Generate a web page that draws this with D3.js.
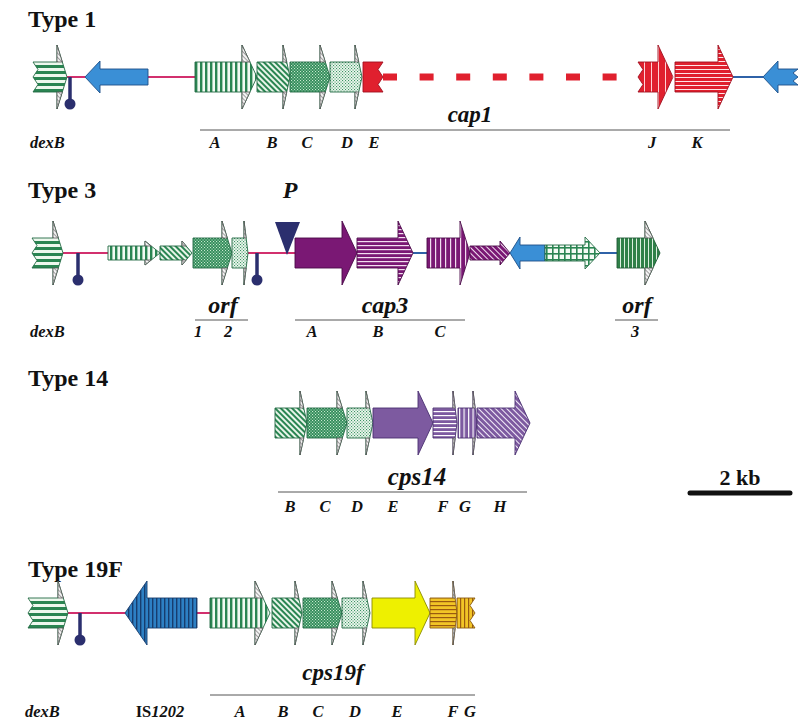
<!DOCTYPE html>
<html><head><meta charset="utf-8">
<script src="https://cdn.jsdelivr.net/npm/d3@7"></script>
<style>
body{margin:0;background:#fff}
text{font-family:"Liberation Serif","Times New Roman",serif;font-weight:bold;fill:#111}
</style>
</head><body>
<svg id="c" width="810" height="720"></svg>
<script>
// ---------------- DATA (positions in kb) ----------------
const titles = ["Type 1", "Type 3", "Type 14", "Type 19F"];

// gene: name, start kb, end kb, strand, family (homology pattern), arrow class, head class, broken end
const type1Genes = [
  {name:"dexB", start:0.26, end:0.94, strand:1, fam:"gH", size:"big", head:"M", broken:"tail"},
  {name:"orfL", start:1.30, end:2.56, strand:-1, fam:"blue", size:"mid", head:"L"},
  {name:"A", start:3.50, end:4.74, strand:1, fam:"gV", size:"big", head:"L"},
  {name:"B", start:4.74, end:5.40, strand:1, fam:"gD", size:"big", head:"S"},
  {name:"C", start:5.40, end:6.20, strand:1, fam:"gX", size:"big", head:"M"},
  {name:"D", start:6.20, end:6.84, strand:1, fam:"gL", size:"big", head:"S"},
  {name:"E", start:6.86, end:7.26, strand:1, fam:"red", size:"big", head:"N", broken:"tip"},
  {name:"J", start:12.36, end:13.06, strand:1, fam:"rV", size:"big", head:"L", broken:"tail"},
  {name:"K", start:13.10, end:14.26, strand:1, fam:"rH", size:"big", head:"L"},
  {name:"orfR", start:14.86, end:15.56, strand:-1, fam:"blue", size:"mid", head:"L", broken:"tail"}
];
const type1Links = [{from:0.94, to:1.30, c:"pink"}, {from:2.56, to:3.50, c:"pink"}, {from:14.26, to:14.86, c:"blue"}];
const type1Gap = [{from:7.26, to:11.96}];
const type1Terms = [1.00];
const type1Groups = [{text:"cap1", at:9.00, from:3.60, to:14.20}];
const type1Letters = [{t:"A",at:3.90},{t:"B",at:5.04},{t:"C",at:5.74},{t:"D",at:6.54},{t:"E",at:7.08},{t:"J",at:12.64},{t:"K",at:13.54}];
const type1Side = [{t:"dexB", at:0.20, anchor:"start"}];

const type3Genes = [
  {name:"dexB", start:0.24, end:0.86, strand:1, fam:"gH", size:"big", head:"M", broken:"tail"},
  {name:"o1a", start:1.76, end:2.80, strand:1, fam:"gV", size:"small", head:"L"},
  {name:"o1b", start:2.80, end:3.44, strand:1, fam:"gD", size:"small", head:"M"},
  {name:"orf1", start:3.46, end:4.24, strand:1, fam:"gX", size:"big", head:"M"},
  {name:"orf2", start:4.24, end:4.56, strand:1, fam:"gL", size:"big", head:"T"},
  {name:"A", start:5.50, end:6.74, strand:1, fam:"purple", size:"big", head:"L"},
  {name:"B", start:6.74, end:7.86, strand:1, fam:"pH", size:"big", head:"L"},
  {name:"C", start:8.14, end:9.00, strand:1, fam:"pV", size:"big", head:"M"},
  {name:"p4", start:9.00, end:9.80, strand:1, fam:"pD", size:"small", head:"M"},
  {name:"bl", start:9.80, end:10.50, strand:-1, fam:"blue", size:"mid", head:"M"},
  {name:"gr", start:10.50, end:11.60, strand:1, fam:"gG", size:"mid", head:"L"},
  {name:"orf3", start:11.94, end:12.80, strand:1, fam:"dgV", size:"big", head:"L"}
];
const type3Links = [{from:0.86, to:1.76, c:"pink"}, {from:4.56, to:5.50, c:"pink"}, {from:7.86, to:8.14, c:"blue"}, {from:11.60, to:11.94, c:"blue"}];
const type3Terms = [1.16, 4.74];
const type3Promoters = [{t:"P", at:5.34}];
const type3Groups = [{text:"orf", at:4.06, from:3.50, to:4.56}, {text:"cap3", at:7.30, from:5.50, to:8.90}, {text:"orf", at:12.34, from:11.90, to:12.76}];
const type3Letters = [{t:"1",at:3.56},{t:"2",at:4.16},{t:"A",at:5.84},{t:"B",at:7.16},{t:"C",at:8.40},{t:"3",at:12.30}];
const type3Side = [{t:"dexB", at:0.20, anchor:"start"}];

const type14Genes = [
  {name:"B", start:5.10, end:5.74, strand:1, fam:"gD", size:"big", head:"S"},
  {name:"C", start:5.74, end:6.54, strand:1, fam:"gX", size:"big", head:"M"},
  {name:"D", start:6.54, end:7.06, strand:1, fam:"gL", size:"big", head:"S"},
  {name:"E", start:7.06, end:8.26, strand:1, fam:"lav", size:"big", head:"L"},
  {name:"F", start:8.26, end:8.74, strand:1, fam:"lH", size:"big", head:"T"},
  {name:"G", start:8.76, end:9.14, strand:1, fam:"lV", size:"big", head:"T"},
  {name:"H", start:9.14, end:10.20, strand:1, fam:"lD", size:"big", head:"L"}
];
const type14Groups = [{text:"cps14", at:7.94, from:5.16, to:10.14}];
const type14Letters = [{t:"B",at:5.40},{t:"C",at:6.10},{t:"D",at:6.74},{t:"E",at:7.46},{t:"F",at:8.46},{t:"G",at:8.90},{t:"H",at:9.60}];

const type19Genes = [
  {name:"dexB", start:0.16, end:0.96, strand:1, fam:"gH", size:"big", head:"M", broken:"tail"},
  {name:"IS1202", start:2.10, end:3.54, strand:-1, fam:"bV", size:"big", head:"X"},
  {name:"A", start:3.80, end:5.00, strand:1, fam:"gV", size:"big", head:"L"},
  {name:"B", start:5.04, end:5.64, strand:1, fam:"gD", size:"big", head:"S"},
  {name:"C", start:5.66, end:6.44, strand:1, fam:"gX", size:"big", head:"M"},
  {name:"D", start:6.44, end:7.00, strand:1, fam:"gL", size:"big", head:"S"},
  {name:"E", start:7.04, end:8.20, strand:1, fam:"yellow", size:"big", head:"L"},
  {name:"F", start:8.20, end:8.74, strand:1, fam:"oH", size:"big", head:"T"},
  {name:"G", start:8.74, end:9.10, strand:1, fam:"oV", size:"big", head:"N", broken:"tip"}
];
const type19Links = [{from:0.96, to:2.10, c:"pink"}, {from:3.54, to:3.80, c:"pink"}];
const type19Terms = [1.20];
const type19Groups = [{text:"cps19f", at:6.26, from:3.80, to:9.10}];
const type19Letters = [{t:"A",at:4.40},{t:"B",at:5.26},{t:"C",at:5.96},{t:"D",at:6.70},{t:"E",at:7.54},{t:"F",at:8.66},{t:"G",at:9.00}];
const type19Side = [{t:"dexB", at:0.10, anchor:"start"}, {t:"IS1202", at:2.80, anchor:"middle"}];

const scaleBar = {from:13.40, to:15.40, label:"2 kb"};

// ---------------- LAYOUT / STYLE ----------------
const svg = d3.select("#c");
const x = d3.scaleLinear().domain([0, 15.8]).range([20, 810]);
const SIZES = {big:[15,32], mid:[8,16], small:[7,12]};
const HEADS = {X:22, L:15, M:10, S:7, T:4, N:0};
const LINKC = {pink:"#d2306e", blue:"#2f62a8"};

const G = "#2a8552";
const FAM = {
  gH:{stroke:"#226a44", pale:true}, gV:{stroke:"#226a44", pale:true}, gD:{stroke:"#226a44", pale:true},
  gX:{stroke:"#226a44", pale:true}, gL:{stroke:"#226a44", pale:true}, gG:{stroke:"#226a44", pale:false},
  dgV:{stroke:"#1f5a36", pale:true},
  red:{stroke:"#a01020"}, rV:{stroke:"#a01020"}, rH:{stroke:"#a01020"},
  purple:{stroke:"#4a0a48"}, pH:{stroke:"#4a0a48"}, pV:{stroke:"#4a0a48"}, pD:{stroke:"#4a0a48"},
  lav:{stroke:"#4a3070"}, lH:{stroke:"#4a3070", pale:true}, lV:{stroke:"#4a3070", pale:true}, lD:{stroke:"#4a3070"},
  blue:{stroke:"#1d4f88"}, bV:{stroke:"#173d6e"},
  yellow:{stroke:"#8a8a00"}, oH:{stroke:"#8a5a10", pale:true}, oV:{stroke:"#8a5a10"}
};
const SOLID = {red:"#e0202e", purple:"#7a1874", lav:"#7d5aa0", blue:"#3a8fd6", yellow:"#eef000"};

const defs = svg.append("defs");
function stripes(id, bg, fg, period, lw, dir){
  const p = defs.append("pattern").attr("id", id).attr("patternUnits","userSpaceOnUse")
    .attr("width", period).attr("height", period);
  if (dir === "d") p.attr("patternTransform","rotate(-45)");
  p.append("rect").attr("width", period).attr("height", period).attr("fill", bg);
  if (dir === "h") p.append("rect").attr("width", period).attr("height", lw).attr("fill", fg);
  else p.append("rect").attr("width", lw).attr("height", period).attr("fill", fg);
}
function dots(id, bg, fg, period, s){
  const p = defs.append("pattern").attr("id", id).attr("patternUnits","userSpaceOnUse")
    .attr("width", period).attr("height", period);
  p.append("rect").attr("width", period).attr("height", period).attr("fill", bg);
  p.append("rect").attr("width", s).attr("height", s).attr("fill", fg);
  p.append("rect").attr("x", period/2).attr("y", period/2).attr("width", s).attr("height", s).attr("fill", fg);
}
stripes("gH", "#eef8ee", G, 6, 3, "h");
stripes("gV", "#f2faf2", G, 5, 2.4, "v");
stripes("gD", "#e9f5ea", G, 4, 2, "d");
dots("gX", "#2f8a58", "#c8e8cf", 3, 1.1);
dots("gL", "#eef8ef", "#3c9464", 3, 1.1);
(function(){
  const p = defs.append("pattern").attr("id","gG").attr("patternUnits","userSpaceOnUse").attr("width",6).attr("height",6);
  p.append("rect").attr("width",6).attr("height",6).attr("fill","#f4fbf4");
  p.append("rect").attr("width",6).attr("height",1.6).attr("fill",G);
  p.append("rect").attr("width",1.6).attr("height",6).attr("fill",G);
})();
stripes("dgV", "#2f8048", "#dcefdf", 4, 1, "v");
stripes("rV", "#e0202e", "#ffd0d4", 7, 1, "v");
stripes("rH", "#e0202e", "#ffe4e6", 4, 1, "h");
stripes("pH", "#7a1874", "#f2dff0", 4, 1.2, "h");
stripes("pV", "#7a1874", "#f2dff0", 5, 1.2, "v");
stripes("pD", "#7a1874", "#f2dff0", 4, 1, "d");
stripes("lH", "#7d5aa0", "#ffffff", 4, 1.2, "h");
stripes("lV", "#7d5aa0", "#ffffff", 4.5, 1.2, "v");
stripes("lD", "#7d5aa0", "#f4eefa", 4, 1, "d");
stripes("bV", "#2d80c4", "#173d6e", 4, 1.4, "v");
stripes("oH", "#f2c526", "#9a5a10", 4, 1.2, "h");
stripes("oV", "#f2c526", "#9a5a10", 4, 1.2, "v");
stripes("flap", "#f4f4f4", "#8a8a8a", 3, 0.8, "d");
const fillOf = f => SOLID[f] || `url(#${f})`;

function geneGeom(g){
  const [bh, hh] = SIZES[g.size];
  const hl = HEADS[g.head];
  const x0 = x(g.start), x1 = x(g.end);
  const L = x1 - x0, z = 5;
  const pts = [[0,-bh]];
  if (hl > 0) pts.push([L-hl,-bh],[L-hl,-hh],[L,0],[L-hl,hh],[L-hl,bh]);
  else if (g.broken === "tip") pts.push([L,-bh],[L-z,-bh/2],[L,0],[L-z,bh/2],[L,bh]);
  else pts.push([L,-bh],[L,bh]);
  pts.push([0,bh]);
  if (g.broken === "tail") pts.push([z,bh/2],[0,0],[z,-bh/2]);
  const map = p => g.strand > 0 ? [x0 + p[0], p[1]] : [x1 - p[0], p[1]];
  const flaps = [];
  if (hl > 0){
    const xe = L - hl + hl*(hh-bh)/hh;
    flaps.push([[L-hl,-hh],[L-hl,-bh],[xe,-bh]].map(map));
    flaps.push([[L-hl,hh],[L-hl,bh],[xe,bh]].map(map));
  }
  return {outline: pts.map(map), flaps};
}

const line = d3.line();
const tracks = [
  {title:titles[0], titleY:27, cy:77, genes:type1Genes, links:type1Links, gaps:type1Gap, terms:type1Terms, proms:[], groups:type1Groups, letters:type1Letters, side:type1Side, groupY:122, lineY:130, letterY:148, groupSize:23},
  {title:titles[1], titleY:198, cy:253, genes:type3Genes, links:type3Links, gaps:[], terms:type3Terms, proms:type3Promoters, groups:type3Groups, letters:type3Letters, side:type3Side, groupY:313, lineY:320, letterY:337, groupSize:24},
  {title:titles[2], titleY:386, cy:423, genes:type14Genes, links:[], gaps:[], terms:[], proms:[], groups:type14Groups, letters:type14Letters, side:[], groupY:485, lineY:492, letterY:512, groupSize:25},
  {title:titles[3], titleY:577, cy:613, genes:type19Genes, links:type19Links, gaps:[], terms:type19Terms, proms:[], groups:type19Groups, letters:type19Letters, side:type19Side, groupY:680, lineY:695, letterY:717, groupSize:23}
];

tracks.forEach(tr => {
  const g = svg.append("g");
  const cy = tr.cy;
  g.append("text").attr("x", 28).attr("y", tr.titleY).attr("font-size", 24).text(tr.title);

  g.selectAll(".lk").data(tr.links).join("line")
    .attr("x1", d => x(d.from)).attr("x2", d => x(d.to)).attr("y1", cy).attr("y2", cy)
    .attr("stroke", d => LINKC[d.c]).attr("stroke-width", 2);
  g.selectAll(".gap").data(tr.gaps).join("line")
    .attr("x1", d => x(d.from)).attr("x2", d => x(d.to)).attr("y1", cy).attr("y2", cy)
    .attr("stroke", "#e0202e").attr("stroke-width", 7).attr("stroke-dasharray", "14 22.6");

  tr.genes.forEach(d => {
    const geo = geneGeom(d);
    g.append("path").attr("d", line(geo.outline) + "Z")
      .attr("transform", `translate(0,${cy})`)
      .attr("fill", fillOf(d.fam)).attr("stroke", FAM[d.fam].stroke).attr("stroke-width", 0.9)
      .attr("stroke-linejoin", "miter");
    if (FAM[d.fam].pale) {
      geo.flaps.forEach(f => {
        g.append("path").attr("d", line(f) + "Z").attr("transform", `translate(0,${cy})`)
          .attr("fill", "url(#flap)").attr("stroke", "#555").attr("stroke-width", 0.8);
      });
    }
  });

  tr.terms.forEach(t => {
    g.append("line").attr("x1", x(t)).attr("x2", x(t)).attr("y1", cy).attr("y2", cy + 26)
      .attr("stroke", "#2b2f6e").attr("stroke-width", 3.5);
    g.append("circle").attr("cx", x(t)).attr("cy", cy + 27).attr("r", 5.5).attr("fill", "#2b2f6e");
  });
  tr.proms.forEach(p => {
    const px = x(p.at);
    g.append("path").attr("d", line([[px-12, cy-31],[px+13, cy-31],[px, cy+2]]) + "Z").attr("fill", "#2b2f6e");
    g.append("text").attr("x", px + 3).attr("y", tr.titleY).attr("font-size", 24)
      .attr("font-style", "italic").attr("text-anchor", "middle").text(p.t);
  });

  tr.groups.forEach(gr => {
    g.append("line").attr("x1", x(gr.from)).attr("x2", x(gr.to)).attr("y1", tr.lineY).attr("y2", tr.lineY)
      .attr("stroke", "#555").attr("stroke-width", 1);
    g.append("text").attr("x", x(gr.at)).attr("y", tr.groupY).attr("font-size", tr.groupSize)
      .attr("font-style", "italic").attr("text-anchor", "middle").text(gr.text);
  });
  tr.letters.forEach(l => {
    g.append("text").attr("x", x(l.at)).attr("y", tr.letterY).attr("font-size", 16.5)
      .attr("font-style", "italic").attr("text-anchor", "middle").text(l.t);
  });
  tr.side.forEach(s => {
    const t = g.append("text").attr("x", x(s.at)).attr("y", tr.letterY).attr("font-size", 16.5)
      .attr("text-anchor", s.anchor);
    if (s.t.startsWith("IS")) {
      t.append("tspan").text("IS");
      t.append("tspan").attr("font-style", "italic").text(s.t.slice(2));
    } else t.attr("font-style", "italic").text(s.t);
  });
});

svg.append("line").attr("x1", x(scaleBar.from)).attr("x2", x(scaleBar.to)).attr("y1", 493).attr("y2", 493)
  .attr("stroke", "#111").attr("stroke-width", 5).attr("stroke-linecap", "round");
svg.append("text").attr("x", (x(scaleBar.from) + x(scaleBar.to)) / 2).attr("y", 485)
  .attr("font-size", 22).attr("text-anchor", "middle").text(scaleBar.label);
</script>
</body></html>
